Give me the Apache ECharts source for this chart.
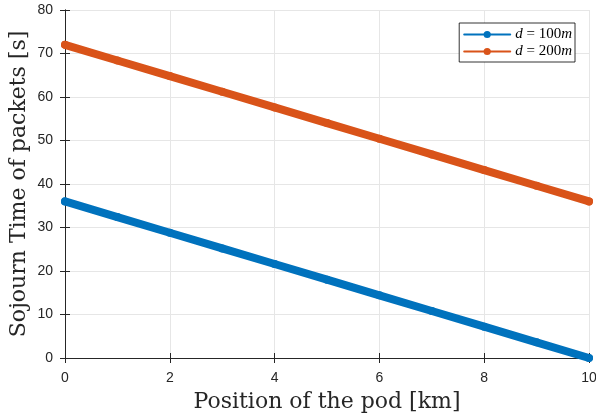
<!DOCTYPE html>
<html><head><meta charset="utf-8">
<script src="https://cdn.jsdelivr.net/npm/echarts@6/dist/echarts.min.js"></script>
<style>html,body{margin:0;padding:0;background:#fff}#c{width:596px;height:418px}</style>
</head><body><div id="c"></div>
<script>
var positions = [0,1,2,3,4,5,6,7,8,9,10];
var sojourn100 = [36,32.4,28.8,25.2,21.6,18,14.4,10.8,7.2,3.6,0];
var sojourn200 = [72,68.4,64.8,61.2,57.6,54,50.4,46.8,43.2,39.6,36];
var xTicks = [0,2,4,6,8,10];
var yTicks = [0,10,20,30,40,50,60,70,80];
var seriesNames = ['d = 100m','d = 200m'];
var colors = ['#0072BD','#D95319'];

function pairs(xs, ys){ return xs.map(function(x,i){return [x, ys[i]];}); }
var axisCol = '#262626';
var chart = echarts.init(document.getElementById('c'));
var baseAxis = {
  axisLine:{show:true,lineStyle:{color:axisCol,width:1}},
  axisTick:{show:true,inside:true,length:5,lineStyle:{color:axisCol}},
};
chart.setOption({
  animation:false,
  grid:{left:65,right:7,top:10,bottom:60,containLabel:false,outerBoundsMode:'none'},
  legend:{
    right:21, top:23, orient:'vertical', itemGap:2,
    backgroundColor:'#fff', borderColor:'#000', borderWidth:0.8, padding:[4,3,3,4],
    itemWidth:46, itemHeight:9,
    data: seriesNames,
    formatter:function(n){ var p=n.split(' = '); var num=p[1].replace('m',''); return '{i|d} = '+num+'{i|m}'; },
    textStyle:{fontFamily:'Liberation Serif',fontSize:15,lineHeight:15,color:'#000',
      rich:{i:{fontFamily:'Liberation Serif',fontStyle:'italic',fontSize:15,lineHeight:15,color:'#000'}}}
  },
  xAxis:[
    Object.assign({type:'value',min:0,max:10,interval:2,position:'bottom',
      name:'Position of the pod [km]',nameLocation:'middle',nameGap:33,nameMoveOverlap:false,
      nameTextStyle:{fontFamily:'DejaVu Serif',fontSize:22,color:'#262626'},
      axisLabel:{color:'#262626',fontFamily:'Liberation Sans',fontSize:14,margin:13,
        formatter:function(v){return xTicks.indexOf(v)>=0?String(v):'';}},
      splitLine:{show:true,lineStyle:{color:'#e6e6e6',width:1}}},baseAxis),
    Object.assign({type:'value',min:0,max:10,interval:2,position:'top',
      axisLabel:{show:false},splitLine:{show:false}},baseAxis)
  ],
  yAxis:[
    Object.assign({type:'value',min:0,max:80,interval:10,position:'left',
      name:'Sojourn Time of packets [s]',nameLocation:'middle',nameGap:35,nameMoveOverlap:false,
      nameTextStyle:{fontFamily:'DejaVu Serif',fontSize:22,color:'#262626'},
      axisLabel:{color:'#262626',fontFamily:'Liberation Sans',fontSize:14,margin:12,
        formatter:function(v){return yTicks.indexOf(v)>=0?String(v):'';}},
      splitLine:{show:true,lineStyle:{color:'#e6e6e6',width:1}}},baseAxis),
    Object.assign({type:'value',min:0,max:80,interval:10,position:'right',
      axisLabel:{show:false},splitLine:{show:false}},baseAxis)
  ],
  series:[
    {name:seriesNames[0],type:'line',data:pairs(positions,sojourn100),color:colors[0],
     lineStyle:{width:8,color:colors[0],cap:'round'},symbol:'circle',symbolSize:8,showSymbol:true,
     itemStyle:{color:colors[0]},clip:false,z:3},
    {name:seriesNames[1],type:'line',data:pairs(positions,sojourn200),color:colors[1],
     lineStyle:{width:8,color:colors[1],cap:'round'},symbol:'circle',symbolSize:8,showSymbol:true,
     itemStyle:{color:colors[1]},clip:false,z:3}
  ]
});
</script></body></html>
